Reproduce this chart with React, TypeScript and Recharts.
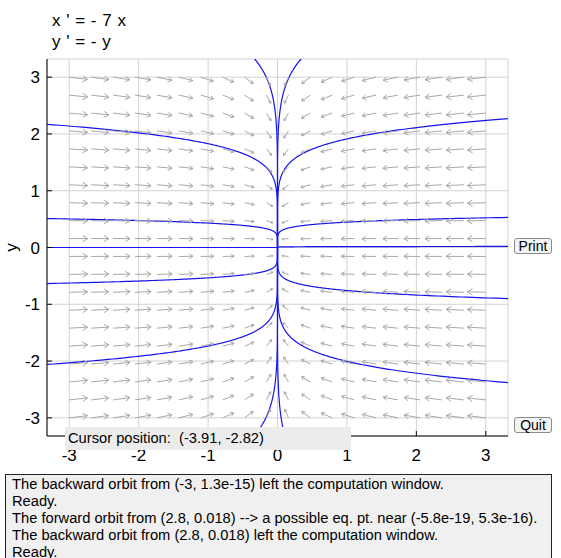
import React from 'react';
import { ComposedChart, Line, Scatter, XAxis, YAxis, CartesianGrid } from 'recharts';

// ---- data ----
const xTicks = [-3, -2, -1, 0, 1, 2, 3];
const yTicks = [-3, -2, -1, 0, 1, 2, 3];
const windowLimits = [-3.32, 3.32];
// system: x' = -7 x, y' = -y
const eqCoefX = -7;
const eqCoefY = -1;
// direction-field sample points
const fieldX = [-3, -2.684, -2.368, -2.053, -1.737, -1.421, -1.105, -0.789, -0.474, -0.158, 0.158, 0.474, 0.789, 1.105, 1.421, 1.737, 2.053, 2.368, 2.684, 3];
const fieldY = [-3, -2.684, -2.368, -2.053, -1.737, -1.421, -1.105, -0.789, -0.474, -0.158, 0.158, 0.474, 0.789, 1.105, 1.421, 1.737, 2.053, 2.368, 2.684, 3];
// orbit initial points
const orbitStartX = [-3.32, -3.32, -3.32, -3.32, 3.32, 3.32, 3.32, 3.32, -0.33, 0.34, -0.23, 0.072, -3, 2.8];
const orbitStartY = [2.17, 0.51, -0.635, -2.06, 2.27, 0.53, -0.9, -2.38, 3.32, 3.32, -3.14, -3.14, 1.3e-15, 0.018];
const messages = [
  'The backward orbit from (-3, 1.3e-15) left the computation window.',
  'Ready.',
  'The forward orbit from (2.8, 0.018) --> a possible eq. pt. near (-5.8e-19, 5.3e-16).',
  'The backward orbit from (2.8, 0.018) left the computation window.',
  'Ready.',
];

// ---- layout ----
const W = 561;
const H = 558;
const PLOT = { left: 47, top: 59, right: 508, bottom: 436 };
const pxX = (PLOT.right - PLOT.left) / (windowLimits[1] - windowLimits[0]);
const pxY = (PLOT.bottom - PLOT.top) / (windowLimits[1] - windowLimits[0]);
const FONT = '"Liberation Sans", Arial, sans-serif';
const ORBIT = '#1414ee';
const ARROW = '#a8a8a8';

function orbitPoints(x0: number, y0: number) {
  const lim = windowLimits[1];
  const a = eqCoefX;
  const b = eqCoefY;
  const sx = Math.abs(x0) > 0 ? Math.log(lim / Math.abs(x0)) / -a : Infinity;
  const sy = Math.abs(y0) > 0 ? Math.log(lim / Math.abs(y0)) / -b : Infinity;
  const tStart = -Math.max(0, Math.min(sx, sy));
  const ex = Math.abs(x0) > 0 ? Math.log(Math.abs(x0) / 1e-4) / -a : 0;
  const ey = Math.abs(y0) > 1e-4 ? Math.log(Math.abs(y0) / 1e-4) / -b : 0;
  const tEnd = Math.max(ex, ey, 0.1);
  const pts: { x: number; y: number }[] = [];
  const dt = 0.004;
  for (let t = tStart; t <= tEnd; t += dt) {
    pts.push({ x: x0 * Math.exp(a * t), y: y0 * Math.exp(b * t) });
  }
  return pts;
}

const orbits = orbitStartX.map((x0, i) => orbitPoints(x0, orbitStartY[i]));

const fieldData: { x: number; y: number }[] = [];
fieldX.forEach((x) => fieldY.forEach((y) => fieldData.push({ x, y })));
const maxMag = Math.max(...fieldData.map((p) => Math.hypot(eqCoefX * p.x, eqCoefY * p.y)));

const ArrowShape = (props: any) => {
  const { cx, cy, payload } = props;
  const vx = eqCoefX * payload.x;
  const vy = eqCoefY * payload.y;
  const m = Math.hypot(vx, vy);
  if (m === 0) return <g />;
  const sx = vx * pxX;
  const sy = -vy * pxY;
  const sl = Math.hypot(sx, sy);
  const ux = sx / sl;
  const uy = sy / sl;
  const len = 18.5 * Math.pow(m / maxMag, 0.35);
  const hx = cx + ux * len;
  const hy = cy + uy * len;
  const hl = len * 0.32;
  const ang = 0.55;
  const bx = -ux;
  const by = -uy;
  const c = Math.cos(ang);
  const s = Math.sin(ang);
  const b1x = hx + hl * (bx * c - by * s);
  const b1y = hy + hl * (bx * s + by * c);
  const b2x = hx + hl * (bx * c + by * s);
  const b2y = hy + hl * (-bx * s + by * c);
  return (
    <path
      d={`M${cx},${cy}L${hx},${hy}M${b1x},${b1y}L${hx},${hy}L${b2x},${b2y}`}
      stroke={ARROW}
      strokeWidth={1}
      fill="none"
    />
  );
};

const BottomTick = (props: any) => {
  const { x, y, payload } = props;
  return (
    <g>
      <line x1={x} x2={x} y1={y} y2={y - 5} stroke="#000" />
      <text x={x} y={y + 25} textAnchor="middle" fontSize={17} fontFamily={FONT} fill="#000">
        {String(payload.value)}
      </text>
    </g>
  );
};
const TopTick = (props: any) => {
  const { x, y } = props;
  return <line x1={x} x2={x} y1={y} y2={y + 5} stroke="#000" />;
};
const LeftTick = (props: any) => {
  const { x, y, payload } = props;
  return (
    <g>
      <line x1={x} x2={x + 5} y1={y} y2={y} stroke="#000" />
      <text x={x - 7} y={y + 6} textAnchor="end" fontSize={17} fontFamily={FONT} fill="#000">
        {String(payload.value)}
      </text>
    </g>
  );
};
const RightTick = (props: any) => {
  const { x, y } = props;
  return <line x1={x} x2={x - 5} y1={y} y2={y} stroke="#000" />;
};

const buttonStyle: React.CSSProperties = {
  position: 'absolute',
  left: 514,
  width: 38,
  height: 16,
  boxSizing: 'border-box',
  border: '1px solid #8a8a8a',
  borderRadius: 3,
  background: '#f4f4f4',
  fontFamily: FONT,
  fontSize: 14,
  lineHeight: '14px',
  textAlign: 'center',
  color: '#000',
};

const titleStyle: React.CSSProperties = {
  position: 'absolute',
  left: 52,
  fontFamily: FONT,
  fontSize: 17,
  letterSpacing: 0.5,
  lineHeight: '19px',
  color: '#000',
  whiteSpace: 'pre',
};

export default function App() {
  return (
    <div style={{ position: 'absolute', left: 0, top: 0, width: W, height: H, background: '#fff', overflow: 'hidden' }}>
      <div style={{ ...titleStyle, top: 11 }}>{"x ' = - 7 x"}</div>
      <div style={{ ...titleStyle, top: 32 }}>{"y ' = - y"}</div>
      <div style={{ position: 'absolute', left: 1, top: 238, width: 20, height: 19, transform: 'rotate(-90deg)', fontFamily: FONT, fontSize: 17, lineHeight: '19px', textAlign: 'center' }}>
        y
      </div>
      <div style={{ position: 'absolute', left: 0, top: 0 }}>
        <ComposedChart width={W} height={H} margin={{ top: 59, right: 53, bottom: 92, left: 17 }}>
          <CartesianGrid xAxisId="b" yAxisId="l" stroke="#d2d2d2" strokeWidth={1} />
          <XAxis
            xAxisId="b"
            type="number"
            dataKey="x"
            domain={windowLimits}
            allowDataOverflow
            ticks={xTicks}
            height={30}
            tickSize={0}
            tickMargin={0}
            tickLine={false}
            axisLine={{ stroke: '#000' }}
            tick={<BottomTick />}
            interval={0}
          />
          <XAxis
            xAxisId="t"
            orientation="top"
            type="number"
            dataKey="x"
            domain={windowLimits}
            allowDataOverflow
            ticks={xTicks}
            height={0}
            tickSize={0}
            tickMargin={0}
            tickLine={false}
            axisLine={{ stroke: '#000' }}
            tick={<TopTick />}
            interval={0}
          />
          <YAxis
            yAxisId="l"
            type="number"
            dataKey="y"
            domain={windowLimits}
            allowDataOverflow
            ticks={yTicks}
            width={30}
            tickSize={0}
            tickMargin={0}
            tickLine={false}
            axisLine={{ stroke: '#000' }}
            tick={<LeftTick />}
            interval={0}
          />
          <YAxis
            yAxisId="r"
            orientation="right"
            type="number"
            dataKey="y"
            domain={windowLimits}
            allowDataOverflow
            ticks={yTicks}
            width={0}
            tickSize={0}
            tickMargin={0}
            tickLine={false}
            axisLine={{ stroke: '#000' }}
            tick={<RightTick />}
            interval={0}
          />
          <Scatter
            xAxisId="b"
            yAxisId="l"
            data={fieldData}
            dataKey="y"
            shape={<ArrowShape />}
            isAnimationActive={false}
          />
          {orbits.map((pts, i) => (
            <Line
              key={i}
              xAxisId="b"
              yAxisId="l"
              data={pts}
              dataKey="y"
              type="linear"
              dot={false}
              activeDot={false}
              stroke={ORBIT}
              strokeWidth={1.2}
              isAnimationActive={false}
            />
          ))}
        </ComposedChart>
      </div>
      <div style={{ position: 'absolute', left: 65, top: 427, width: 286, height: 23, background: '#ececec', fontFamily: FONT, fontSize: 14.7, lineHeight: '22px', paddingLeft: 3, boxSizing: 'border-box', whiteSpace: 'pre', color: '#000' }}>
        {'Cursor position:  (-3.91, -2.82)'}
      </div>
      <div style={{ ...buttonStyle, top: 238 }}>Print</div>
      <div style={{ ...buttonStyle, top: 417 }}>Quit</div>
      <div style={{ position: 'absolute', left: 5, top: 474, width: 547, height: 100, boxSizing: 'border-box', border: '1px solid #222', background: '#f0f0f0', padding: '1px 0 0 6px', fontFamily: FONT, fontSize: 14.7, lineHeight: '17px', color: '#000', whiteSpace: 'pre' }}>
        {messages.map((m, i) => (
          <div key={i}>{m}</div>
        ))}
      </div>
    </div>
  );
}
